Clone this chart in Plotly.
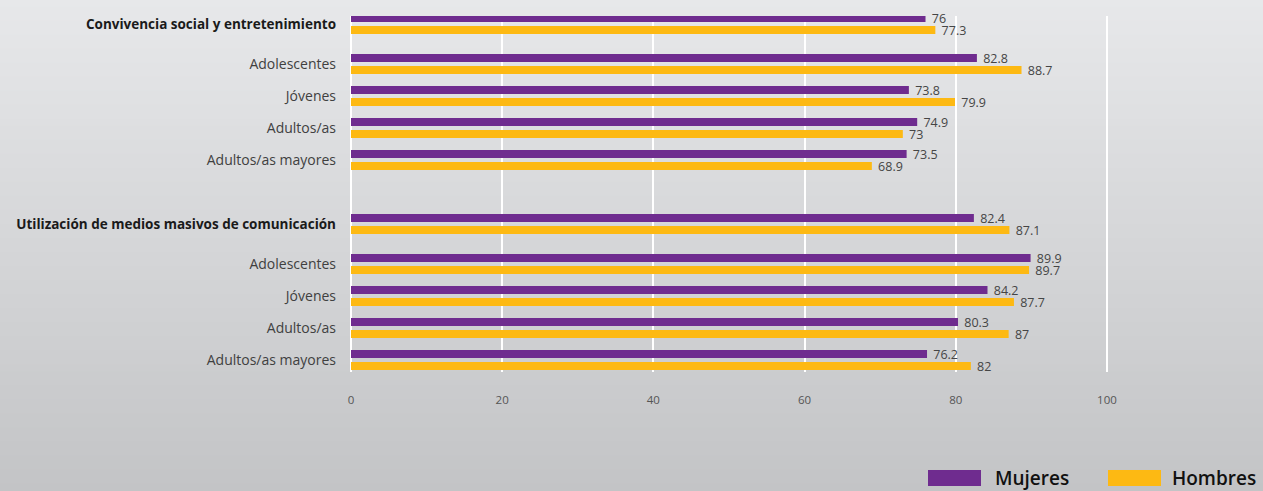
import plotly.graph_objects as go

# ---- data ----
groups = ["Convivencia social y entretenimiento", "Utilización de medios masivos de comunicación"]
subgroups = ["Adolescentes", "Jóvenes", "Adultos/as", "Adultos/as mayores"]
mujeres = [76, 82.8, 73.8, 74.9, 73.5, 82.4, 89.9, 84.2, 80.3, 76.2]
hombres = [77.3, 88.7, 79.9, 73, 68.9, 87.1, 89.7, 87.7, 87, 82]
x_ticks = [0, 20, 40, 60, 80, 100]

PURPLE = "#6F2C8F"
ORANGE = "#FDB913"
FONT = "Open Sans"

# ---- row layout (computed) ----
ypos, ylab = [], []
base = 0.0
for g in groups:
    ypos.append(base)
    ylab.append(f"<b><span style='color:#1a1a1a;font-size:13.5px'>{g}</span></b>")
    for i, s in enumerate(subgroups):
        ypos.append(base + 1.25 + i)
        ylab.append(s)
    base = ypos[-1] + 2.0

fmt = lambda v: "\u00a0" + f"{v:g}"

fig = go.Figure()
for name, vals, col in [("Mujeres", mujeres, PURPLE), ("Hombres", hombres, ORANGE)]:
    fig.add_trace(go.Bar(
        y=ypos, x=vals, orientation="h", name=name,
        marker=dict(color=col, line=dict(width=0)),
        text=[fmt(v) for v in vals], textposition="outside",
        constraintext="none",
        textfont=dict(family=FONT, size=12.5, color="#454545"),
        cliponaxis=False, showlegend=False,
    ))

W, H = 1263, 491
ml, mr, mt, mb = 351, 20, 16, 119
pw = W - ml - mr
ph = H - mt - mb

def px(xp):
    return (xp - ml) / pw

def py(yp):
    return (H - mb - yp) / ph

# gradient background via strips
shapes = []
n = 70
top = (231, 232, 234)
bot = (195, 196, 198)
for k in range(n):
    t = (k + 0.5) / n
    c = tuple(int(round(top[j] + (bot[j] - top[j]) * t)) for j in range(3))
    yt = H * k / n
    yb = H * (k + 1) / n
    shapes.append(dict(type="rect", xref="paper", yref="paper",
                       x0=px(-2), x1=px(W + 2),
                       y0=py(yb + 0.6), y1=py(yt - 0.6),
                       fillcolor=f"rgb{c}", line=dict(width=0), layer="below"))

# manual legend
annotations = []
for x0, x1, col, label, tx in [(928, 981, PURPLE, "Mujeres", 993), (1108, 1161, ORANGE, "Hombres", 1170)]:
    shapes.append(dict(type="rect", xref="paper", yref="paper",
                       x0=px(x0), x1=px(x1), y0=py(486), y1=py(470),
                       fillcolor=col, line=dict(width=0), layer="above"))
    annotations.append(dict(xref="paper", yref="paper", x=px(tx), y=py(478),
                            text=label, showarrow=False,
                            xanchor="left", yanchor="middle",
                            font=dict(family=FONT, size=19, color="#111111", weight=600)))

fig.update_layout(
    width=W, height=H,
    margin=dict(l=ml, r=mr, t=mt, b=mb, pad=0),
    paper_bgcolor="#D5D6D8",
    plot_bgcolor="rgba(0,0,0,0)",
    barmode="group", bargap=0.25, bargroupgap=0.33,
    shapes=shapes, annotations=annotations,
    font=dict(family=FONT, size=14, color="#333333"),
    xaxis=dict(range=[0, 118], tickvals=x_ticks, showgrid=True,
               gridcolor="#FFFFFF", gridwidth=2, zeroline=True,
               zerolinecolor="#FFFFFF", zerolinewidth=2, showline=False,
               ticks="", ticklabelstandoff=19,
               tickfont=dict(family=FONT, size=11.5, color="#555555")),
    yaxis=dict(range=[10.875, -0.25], tickvals=ypos, ticktext=ylab,
               showgrid=False, zeroline=False, showline=False, ticks="",
               ticklabelstandoff=14,
               tickfont=dict(family=FONT, size=14, color="#404040")),
)

fig.write_html("out.html", config={"displayModeBar": False},
               post_script="document.body.style.margin='0';document.body.style.padding='0';")
